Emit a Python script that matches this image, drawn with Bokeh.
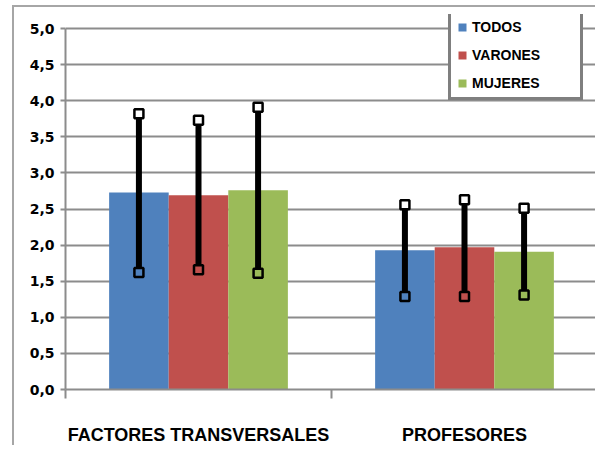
from bokeh.plotting import figure
from bokeh.models import (Range1d, LinearAxis, FixedTicker,
                          CustomJSTickFormatter, ColumnDataSource, Legend, LegendItem)
from bokeh.embed import file_html
from bokeh.resources import INLINE

categories = ["FACTORES TRANSVERSALES", "PROFESORES"]
series = ["TODOS", "VARONES", "MUJERES"]
todos = [2.73, 1.93]
varones = [2.69, 1.97]
mujeres = [2.76, 1.91]
todos_hi = [3.82, 2.56]
todos_lo = [1.62, 1.29]
varones_hi = [3.73, 2.63]
varones_lo = [1.66, 1.29]
mujeres_hi = [3.91, 2.51]
mujeres_lo = [1.61, 1.31]
y_ticks = [0, 0.5, 1.0, 1.5, 2.0, 2.5, 3.0, 3.5, 4.0, 4.5, 5.0]
colors = ["#4F81BD", "#C0504D", "#9BBB59"]

values = [todos, varones, mujeres]
highs = [todos_hi, varones_hi, mujeres_hi]
lows = [todos_lo, varones_lo, mujeres_lo]

n = len(categories)
centers = [i + 0.5 for i in range(n)]
edges = list(range(n + 1))

GRAY = "#8c8c8c"
p = figure(width=583, height=440, x_range=Range1d(0, n),
           y_range=Range1d(0, 5.195), x_axis_location=None, output_backend="svg",
           toolbar_location=None, min_border_left=51, min_border_right=0,
           min_border_top=7, min_border_bottom=58)
p.styles = {"margin-left": "12px", "margin-top": "5px",
            "border-left": "2px solid #a6a6a6", "border-top": "2px solid #a6a6a6"}
p.outline_line_color = None
p.xgrid.grid_line_color = None
p.ygrid.grid_line_color = GRAY
p.ygrid.grid_line_width = 2
p.ygrid.ticker = FixedTicker(ticks=y_ticks)

yax = p.yaxis[0]
yax.bounds = (0, 5)
yax.ticker = FixedTicker(ticks=y_ticks)
yax.formatter = CustomJSTickFormatter(code="return tick.toFixed(1).replace('.', ',');")
yax.axis_line_color = GRAY
yax.axis_line_width = 2
yax.major_tick_line_color = GRAY
yax.major_tick_line_width = 2
yax.major_tick_out = 5
yax.major_tick_in = 0
yax.minor_tick_line_color = None
yax.major_label_standoff = 6
yax.major_label_text_font = "DejaVu Sans"
yax.major_label_text_font_style = "bold"
yax.major_label_text_font_size = "14px"
yax.major_label_text_color = "black"

edge_axis = LinearAxis(ticker=FixedTicker(ticks=edges),
                       major_label_overrides={e: "" for e in edges})
edge_axis.axis_line_color = GRAY
edge_axis.axis_line_width = 2
edge_axis.major_tick_line_color = GRAY
edge_axis.major_tick_line_width = 2
edge_axis.major_tick_out = 9
edge_axis.major_tick_in = 0
edge_axis.minor_tick_line_color = None
edge_axis.major_label_standoff = 0
edge_axis.major_label_text_font_size = "0px"
p.add_layout(edge_axis, "below")

cat_axis = LinearAxis(ticker=FixedTicker(ticks=centers),
                      major_label_overrides={c: name for c, name in zip(centers, categories)})
cat_axis.axis_line_color = None
cat_axis.major_tick_line_color = None
cat_axis.minor_tick_line_color = None
cat_axis.major_label_standoff = 20
cat_axis.major_label_text_font = "Liberation Sans"
cat_axis.major_label_text_font_style = "bold"
cat_axis.major_label_text_font_size = "18px"
cat_axis.major_label_text_color = "black"
p.add_layout(cat_axis, "below")

width = 0.224
offsets = [-width, 0, width]
items = []
for name, vals, hi, lo, col, off in zip(series, values, highs, lows, colors, offsets):
    xs = [c + off for c in centers]
    src = ColumnDataSource(dict(x=xs, top=vals, hi=hi, lo=lo))
    r = p.vbar(x="x", top="top", width=width, source=src, fill_color=col, line_color=None)
    p.segment(x0="x", x1="x", y0="lo", y1="hi", source=src, line_color="black", line_width=6)
    p.scatter(x="x", y="hi", source=src, marker="square", size=9, fill_color="white",
              line_color="black", line_width=2.5)
    p.scatter(x="x", y="lo", source=src, marker="square", size=9, fill_color=col,
              line_color="black", line_width=2.5)
    items.append(LegendItem(label=name, renderers=[r]))

legend = Legend(items=items, location=(383, 289))
legend.border_line_color = "black"
legend.border_line_width = 3
legend.background_fill_color = "white"
legend.background_fill_alpha = 1
legend.padding = 6
legend.spacing = 12
legend.glyph_width = 10
legend.glyph_height = 10
legend.label_height = 16
legend.label_width = 102
legend.label_standoff = 5
legend.label_text_font = "Liberation Sans"
legend.label_text_font_style = "bold"
legend.label_text_font_size = "14px"
legend.label_text_color = "black"
legend.margin = 0
p.add_layout(legend)

open("out.html", "w").write(file_html(p, INLINE))
